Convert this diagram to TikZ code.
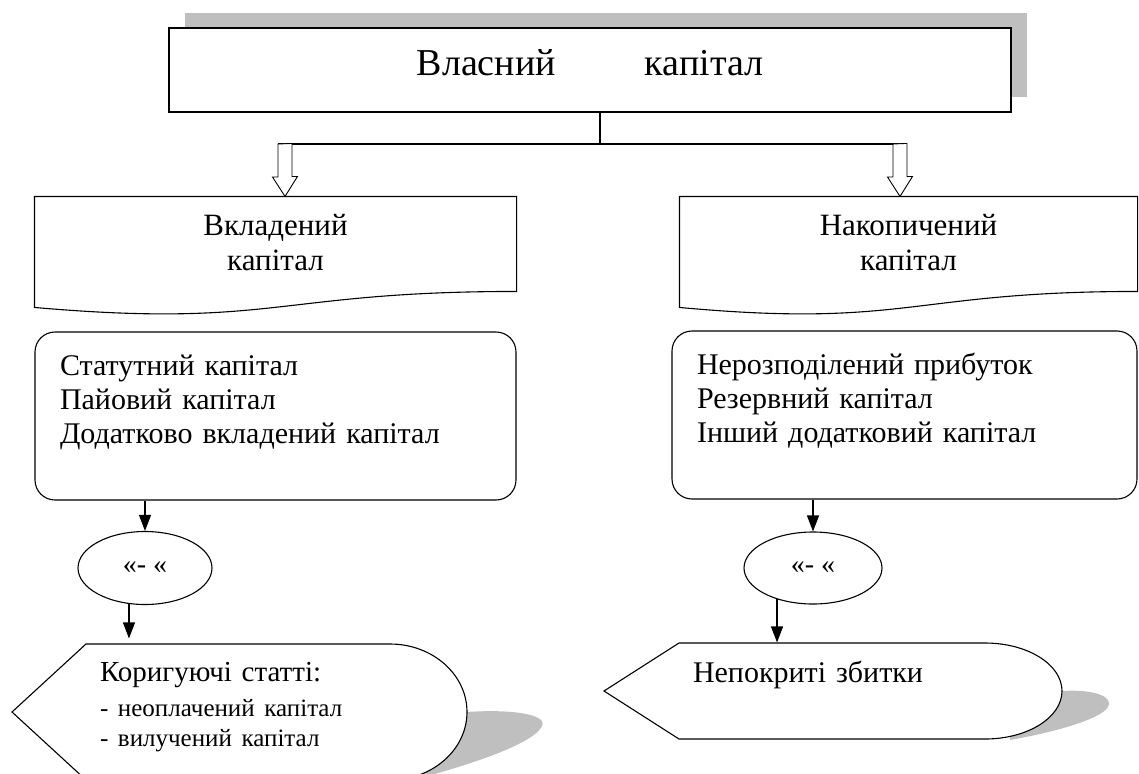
\documentclass[tikz,border=0pt]{standalone}
\usepackage{fontspec}
\setmainfont{Liberation Serif}
\usetikzlibrary{shapes.geometric, arrows.meta, shadows}

\begin{document}
\begin{tikzpicture}[x=1pt, y=-1pt, line width=1.1pt,
  head/.style={font=\fontsize{31}{35}\selectfont, align=center, minimum height=92pt, inner sep=0pt},
  list/.style={draw, fill=white, rounded corners=20pt, font=\fontsize{30}{34}\selectfont, align=left, minimum height=168pt, inner xsep=25pt, inner ysep=0pt},
  oval/.style={draw, fill=white, ellipse, inner sep=0pt, font=\fontsize{28}{30}\selectfont},
  hex/.style={align=left, inner ysep=0pt, font=\fontsize{29}{35}\selectfont},
  arr/.style={-{Triangle[length=16pt, width=12pt]}},
  hollow/.style={fill=white, line width=0.9pt}]
  \useasboundingbox (0,0) rectangle (1139,773);
  \clip (0,0) rectangle (1139,773);

  % top box
  \node[draw, fill=white, minimum width=842pt, minimum height=84pt, text height=28pt, text depth=17pt,
        font=\fontsize{38}{44}\selectfont,
        drop shadow={shadow xshift=16pt, shadow yshift=15pt, fill=black!25, opacity=1}] (own) at (590,70) {Власний\hspace{89pt}капітал};
  \coordinate (split) at (600,144);
  \coordinate (la) at (285,144);
  \coordinate (ra) at (900,144);
  \draw (own.south -| split) -- (split);
  \draw ([xshift=-7pt]la) -- ([xshift=7pt]ra);

  % two kinds of capital
  \node[head, minimum width=481pt] (inv) at (275.5,243) {Вкладений\\капітал};
  \node[head, minimum width=457pt] (acc) at (908.5,243) {Накопичений\\капітал};
  \draw (inv.north west) -- (inv.north east) -- ++(0,95) .. controls +(-240.5,0) and +(240.5,21) .. ([yshift=-111pt]inv.north west) -- cycle;
  \draw (acc.north west) -- (acc.north east) -- ++(0,95) .. controls +(-228.5,0) and +(228.5,21) .. ([yshift=-111pt]acc.north west) -- cycle;
  \draw[hollow] ([xshift=-7pt]la) -- ++(0,33) -- ++(-5.5,0) -- (la |- inv.north) -- ++(12.5,-20) -- ++(-5.5,0) -- ++(0,-33) -- cycle;
  \draw[hollow] ([xshift=-7pt]ra) -- ++(0,33) -- ++(-5.5,0) -- (ra |- acc.north) -- ++(12.5,-20) -- ++(-5.5,0) -- ++(0,-33) -- cycle;

  % items
  \node[list, minimum width=481pt, text width=431pt] (invlist) at (275.5,416) {Статутний капітал\\Пайовий капітал\\Додатково вкладений капітал\\\mbox{}};
  \node[list, minimum width=465pt, text width=415pt] (acclist) at (904.5,415) {Нерозподілений прибуток\\Резервний капітал\\Інший додатковий капітал\\\mbox{}};

  % minus
  \node[oval, minimum width=134pt, minimum height=73pt] (lmid) at (145,568) {«- «\hspace{20pt}};
  \node[oval, minimum width=138pt, minimum height=72pt] (rmid) at (813,568) {«- «\hspace{20pt}};
  \draw[arr] (invlist.south -| lmid.north) -- (lmid.north);
  \draw[arr] (acclist.south -| rmid.north) -- (rmid.north);

  % corrections
  \fill[black!25] (467,712) .. controls (510,709) and (548,714) .. (542,726) .. controls (535,742) and (480,762) .. (420,778) -- (420,712) -- cycle;
  \draw[fill=white] (12,712) -- ++(74,-68) -- ++(304,0) arc[start angle=-90, end angle=90, x radius=77, y radius=68] -- ++(-304,0) -- cycle;
  \node[hex, text width=279pt, inner xsep=88pt, minimum height=136pt] (adj) at (239.5,707)
    {Коригуючі статті:\\{\fontsize{25}{26}\selectfont - неоплачений капітал}\\[-5pt]{\fontsize{25}{26}\selectfont - вилучений капітал}};
  \fill[black!25] (1062,691) .. controls (1095,689) and (1114,697) .. (1108,707) .. controls (1100,720) and (1050,733) .. (1010,740) -- (1010,691) -- cycle;
  \draw[fill=white] (604,691) -- ++(75,-48) -- ++(306,0) arc[start angle=-90, end angle=90, x radius=77, y radius=48] -- ++(-306,0) -- cycle;
  \node[hex, text width=280pt, inner xsep=89pt, minimum height=96pt, font=\fontsize{30}{38}\selectfont] (loss) at (833,691) {Непокриті збитки\\\mbox{}};
  \draw[arr] (lmid.246) -- (lmid.246 |- adj.north);
  \draw[arr] (rmid.221) -- (rmid.221 |- loss.north);
\end{tikzpicture}
\end{document}
